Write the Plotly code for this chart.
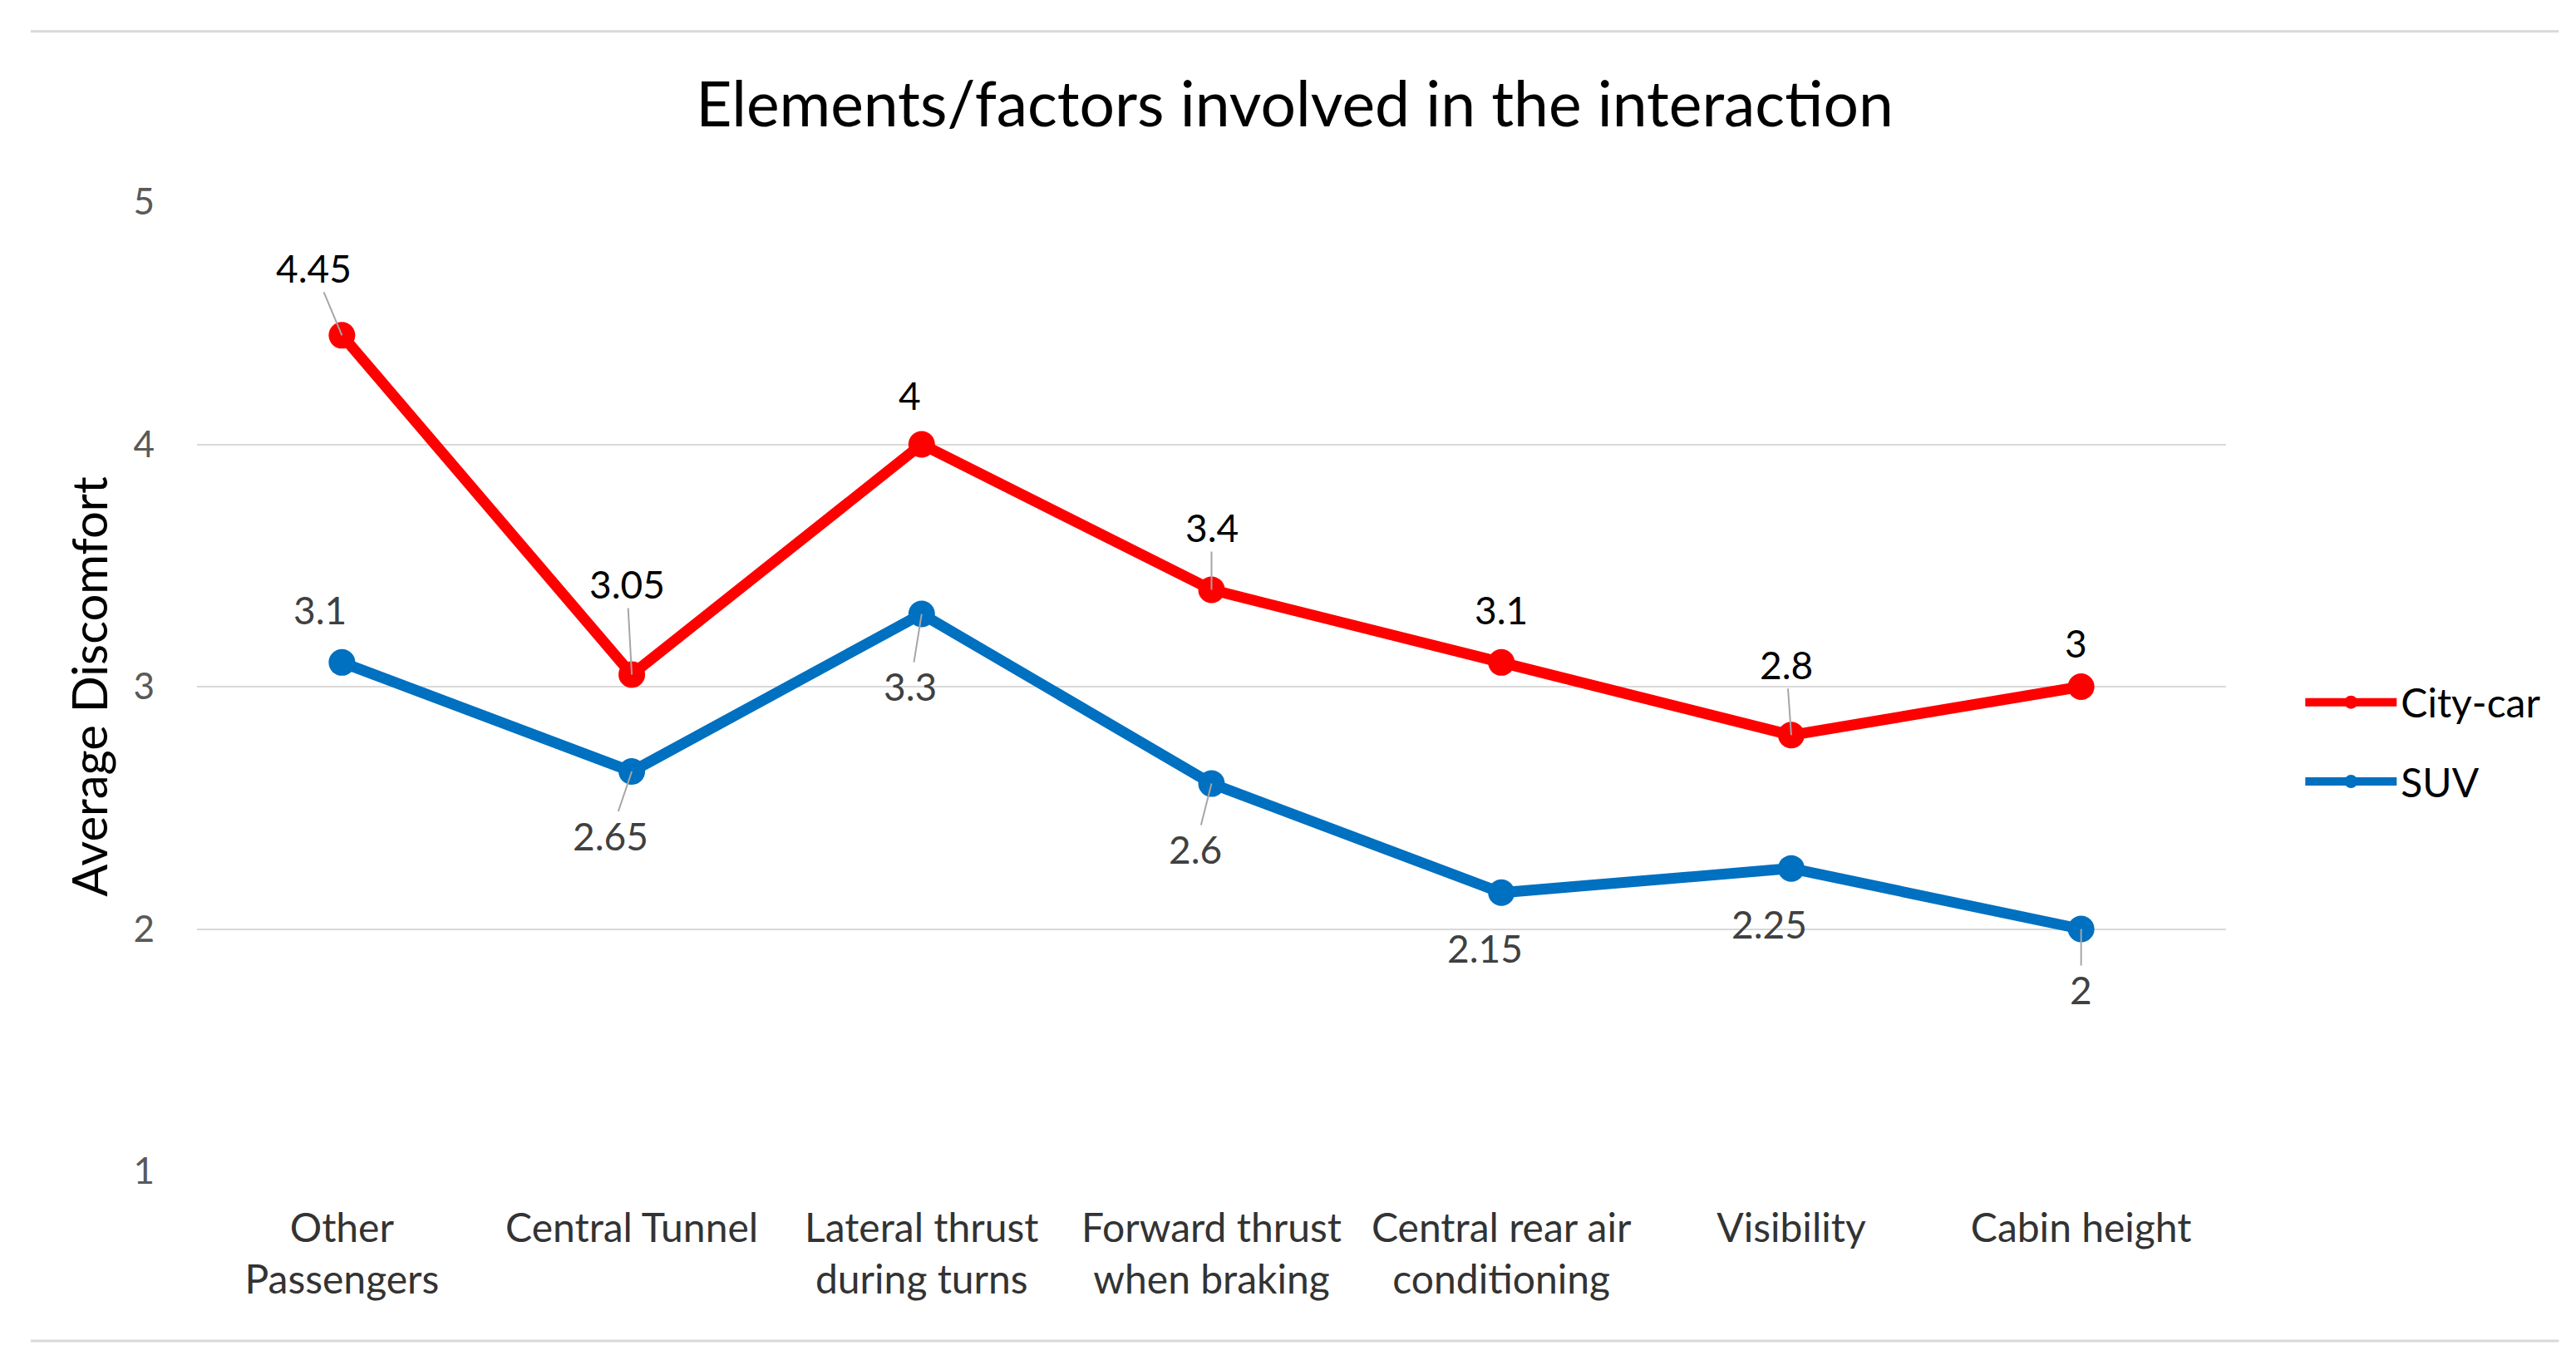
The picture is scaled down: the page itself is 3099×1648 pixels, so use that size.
import plotly.graph_objects as go

categories = ["Other<br>Passengers", "Central Tunnel", "Lateral thrust<br>during turns",
              "Forward thrust<br>when braking", "Central rear air<br>conditioning",
              "Visibility", "Cabin height"]
city_car = [4.45, 3.05, 4.0, 3.4, 3.1, 2.8, 3.0]
suv = [3.1, 2.65, 3.3, 2.6, 2.15, 2.25, 2.0]
city_labels = ["4.45", "3.05", "4", "3.4", "3.1", "2.8", "3"]
suv_labels = ["3.1", "2.65", "3.3", "2.6", "2.15", "2.25", "2"]
y_ticks = [1, 2, 3, 4, 5]

RED = "#FF0000"
BLUE = "#0070C0"
FONT = "Lato"

# label offsets (pixels) and whether a leader line is drawn
city_off = [(-34, -81, True), (-6, -109, True), (-14, -59, False), (0, -75, True),
            (0, -63, False), (-6, -85, True), (-6, -53, False)]
suv_off = [(-26, -63, False), (-26, 77, True), (-14, 87, True), (-20, 79, True),
           (-20, 67, False), (-26, 67, False), (0, 73, True)]

fig = go.Figure()
fig.add_trace(go.Scatter(x=categories, y=city_car, name="City-car", mode="lines+markers",
                         line=dict(color=RED, width=13), marker=dict(color=RED, size=32),
                         legendgroup="a"))
fig.add_trace(go.Scatter(x=categories, y=suv, name="SUV", mode="lines+markers",
                         line=dict(color=BLUE, width=13), marker=dict(color=BLUE, size=32),
                         legendgroup="b"))

annotations = []
for cat, v, lab, (ax, ay, lead) in zip(categories, city_car, city_labels, city_off):
    annotations.append(dict(x=cat, y=v, xref="x", yref="y", text=lab, showarrow=True,
                            ax=ax, ay=ay, arrowhead=0, arrowwidth=2,
                            arrowcolor="#A6A6A6" if lead else "rgba(0,0,0,0)",
                            font=dict(family=FONT, size=46, color="#000000")))
for cat, v, lab, (ax, ay, lead) in zip(categories, suv, suv_labels, suv_off):
    annotations.append(dict(x=cat, y=v, xref="x", yref="y", text=lab, showarrow=True,
                            ax=ax, ay=ay, arrowhead=0, arrowwidth=2,
                            arrowcolor="#A6A6A6" if lead else "rgba(0,0,0,0)",
                            font=dict(family=FONT, size=46, color="#404040")))

fig.update_layout(
    width=3099, height=1648,
    paper_bgcolor="white", plot_bgcolor="white",
    margin=dict(l=229, r=429, t=235, b=247),
    title=dict(text="Elements/factors involved in the interaction", x=0.5, xanchor="center",
               y=1 - 118 / 1648, yanchor="middle", yref="container",
               font=dict(family=FONT, size=75, color="#000000")),
    font=dict(family=FONT),
    showlegend=True,
    legend=dict(x=1.037, y=0.443, xanchor="left", yanchor="middle",
                font=dict(family=FONT, size=48, color="#000000"),
                tracegroupgap=30, itemwidth=110),
    annotations=annotations,
    shapes=[
        dict(type="line", xref="paper", yref="paper", x0=-0.082, x1=1.164, y0=1.176, y1=1.176,
             line=dict(color="#D9D9D9", width=3)),
        dict(type="line", xref="paper", yref="paper", x0=-0.082, x1=1.164, y0=-0.175, y1=-0.175,
             line=dict(color="#D9D9D9", width=3)),
    ],
)
fig.update_xaxes(type="category", range=[-0.5, 6.5], showgrid=False, showline=False,
                 ticks="", ticklabelstandoff=36,
                 tickfont=dict(family=FONT, size=48, color="#333333"))
fig.update_yaxes(range=[1, 5], tickvals=y_ticks, showgrid=True, gridcolor="#D9D9D9",
                 gridwidth=2, zeroline=False, showline=False, ticks="", ticklabelstandoff=50,
                 tickfont=dict(family=FONT, size=44, color="#595959"),
                 title=dict(text="Average Discomfort", standoff=12,
                            font=dict(family=FONT, size=58, color="#000000")))

fig.write_html("out.html")
